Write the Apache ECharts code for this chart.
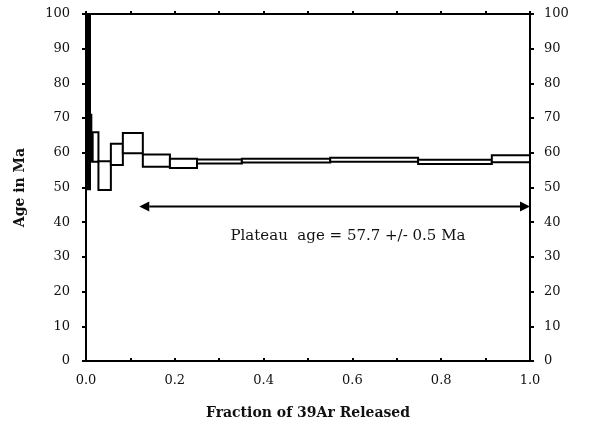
<!DOCTYPE html>
<html>
<head>
<meta charset="utf-8">
<script src="https://cdn.jsdelivr.net/npm/echarts@6/dist/echarts.min.js"></script>
<style>html,body{margin:0;padding:0;background:#fff}#c{width:592px;height:434px}</style>
</head>
<body>
<div id="c"></div>
<script>
// Step boundaries (cumulative fraction of 39Ar released)
const stepStart = [0.000, 0.004, 0.015, 0.028, 0.056, 0.083, 0.128, 0.189, 0.250, 0.351, 0.550, 0.748, 0.914];
const stepEnd   = [0.009, 0.012, 0.028, 0.056, 0.083, 0.128, 0.189, 0.250, 0.351, 0.550, 0.748, 0.914, 1.000];
// Age ranges (Ma): lower and upper edge of each box (age +/- error)
const ageLow  = [49.5, 57.5, 57.4, 49.3, 56.5, 59.9, 56.0, 55.6, 56.9, 57.2, 57.4, 56.8, 57.3];
const ageHigh = [100.0, 71.0, 65.9, 57.6, 62.6, 65.7, 59.5, 58.3, 58.1, 58.3, 58.6, 58.0, 59.3];
// Plateau
const plateauFrom = 0.12, plateauTo = 1.0, plateauAge = 44.5;
const plateauText = 'Plateau  age = 57.7 +/- 0.5 Ma';
const xTicks = [0.0, 0.2, 0.4, 0.6, 0.8, 1.0];
const yTicks = [0, 10, 20, 30, 40, 50, 60, 70, 80, 90, 100];

const FONT = 'DejaVu Serif';
const steps = stepStart.map((s, i) => [s, stepEnd[i], ageLow[i], ageHigh[i]]);

const chart = echarts.init(document.getElementById('c'));
const axisLine = {show: true, onZero: false, lineStyle: {color: '#000', width: 2}};
const labelStyle = {fontFamily: FONT, fontSize: 13, color: '#111'};
const nameStyle = {fontFamily: FONT, fontSize: 14, fontWeight: 'bold', color: '#111'};
chart.setOption({
  animation: false,
  backgroundColor: '#fff',
  grid: {left: 86, right: 62, top: 14, bottom: 73},
  xAxis: [{
    type: 'value', min: 0, max: 1, interval: 0.2, position: 'bottom',
    axisLine: axisLine, axisTick: {show: true, inside: true, length: 3, lineStyle: {color: '#000', width: 2}},
    minorTick: {show: true, splitNumber: 2, length: 3, lineStyle: {color: '#000', width: 2}},
    splitLine: {show: false},
    axisLabel: Object.assign({margin: 13, formatter: v => v.toFixed(1)}, labelStyle),
    name: 'Fraction of 39Ar Released', nameLocation: 'middle', nameGap: 45,
    nameTextStyle: nameStyle
  }, {
    type: 'value', min: 0, max: 1, interval: 0.2, position: 'top',
    axisLine: axisLine, axisTick: {show: true, length: 3, lineStyle: {color: '#000', width: 2}},
    minorTick: {show: true, splitNumber: 2, length: 3, lineStyle: {color: '#000', width: 2}},
    splitLine: {show: false}, axisLabel: {show: false}
  }],
  yAxis: [{
    type: 'value', min: 0, max: 100, interval: 10, position: 'left',
    axisLine: axisLine, axisTick: {show: true, length: 4, lineStyle: {color: '#000', width: 2}},
    splitLine: {show: false},
    axisLabel: Object.assign({margin: 16}, labelStyle),
    name: 'Age in Ma', nameLocation: 'middle', nameGap: 59,
    nameTextStyle: nameStyle
  }, {
    type: 'value', min: 0, max: 100, interval: 10, position: 'right',
    axisLine: axisLine, axisTick: {show: true, length: 4, lineStyle: {color: '#000', width: 2}},
    splitLine: {show: false},
    axisLabel: Object.assign({margin: 14, align: 'left'}, labelStyle)
  }],
  series: [{
    type: 'custom',
    xAxisIndex: 0, yAxisIndex: 0,
    data: steps,
    clip: true,
    renderItem: function (params, api) {
      const p0 = api.coord([api.value(0), api.value(3)]);
      const p1 = api.coord([api.value(1), api.value(2)]);
      const idx = params.dataIndex;
      return {
        type: 'rect',
        shape: {x: p0[0], y: p0[1], width: p1[0] - p0[0], height: p1[1] - p0[1]},
        style: {fill: idx < 2 ? '#000' : '#fff', stroke: '#000', lineWidth: 2}
      };
    },
    z: 3
  }, {
    type: 'custom',
    xAxisIndex: 0, yAxisIndex: 0,
    data: [[plateauFrom, plateauTo, plateauAge]],
    renderItem: function (params, api) {
      const a = api.coord([api.value(0), api.value(2)]);
      const b = api.coord([api.value(1), api.value(2)]);
      const mid = api.coord([(api.value(0) + api.value(1)) / 2 + 0.03, api.value(2)]);
      const h = 10, w = 5;
      return {
        type: 'group',
        children: [
          {type: 'line', shape: {x1: a[0] + h, y1: a[1], x2: b[0] - h, y2: b[1]}, style: {stroke: '#000', lineWidth: 2}},
          {type: 'polygon', shape: {points: [[a[0], a[1]], [a[0] + h, a[1] - w], [a[0] + h, a[1] + w]]}, style: {fill: '#000'}},
          {type: 'polygon', shape: {points: [[b[0], b[1]], [b[0] - h, b[1] - w], [b[0] - h, b[1] + w]]}, style: {fill: '#000'}},
          {type: 'text', x: mid[0], y: mid[1] + 30, style: {text: plateauText, fontFamily: FONT, fontSize: 15, fill: '#111', align: 'center', verticalAlign: 'middle'}}
        ]
      };
    },
    z: 4
  }]
});
</script>
</body>
</html>
